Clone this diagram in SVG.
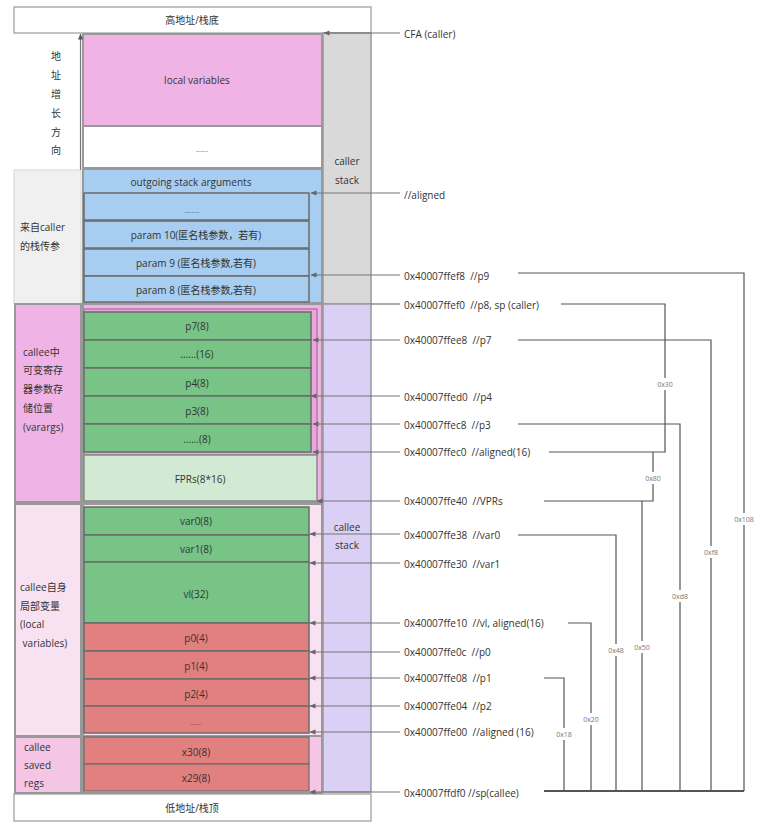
<svg xmlns="http://www.w3.org/2000/svg" width="760" height="829" viewBox="0 0 760 829">
<style>
text{font-family:"Open Sans","Noto Sans CJK SC",sans-serif;font-size:10px;fill:#333;white-space:pre}
.c{text-anchor:middle;dominant-baseline:central}
.l{dominant-baseline:central}
.sec{stroke:#999;stroke-width:2}
.row{stroke:#6b6b6b;stroke-width:1.5}
.ptr{stroke:#777;stroke-width:1.2;fill:none;marker-end:url(#ah)}
.br{stroke:#555;stroke-width:1.2;fill:none}
.bl{font-size:7px;fill:#777;text-anchor:middle;dominant-baseline:central}
.dots{font-size:8px;fill:#555}
</style>
<defs>
<marker id="ah" viewBox="0 0 6 6" refX="5.5" refY="3" markerWidth="6" markerHeight="6" markerUnits="userSpaceOnUse" orient="auto">
<path d="M0,0.5 L6,3 L0,5.5 z" fill="#666"/>
</marker>
<marker id="au" viewBox="0 0 6 6" refX="5.5" refY="3" markerWidth="6" markerHeight="6" markerUnits="userSpaceOnUse" orient="auto">
<path d="M0,0.5 L6,3 L0,5.5 z" fill="#555"/>
</marker>
</defs>
<rect width="760" height="829" fill="#fff"/>

<g id="top">
<rect x="14" y="7" width="357" height="26" fill="#fff" stroke="#999" stroke-width="1.2"/>
<text class="c" x="192" y="20">高地址/栈底</text>
</g>

<g id="growth">
<text class="c" x="56" y="56">地</text>
<text class="c" x="56" y="75">址</text>
<text class="c" x="56" y="94">增</text>
<text class="c" x="56" y="113">长</text>
<text class="c" x="56" y="132">方</text>
<text class="c" x="56" y="150">向</text>
</g>

<g id="caller-params-label">
<rect x="14" y="170" width="67" height="134" fill="#f0f0f0" stroke="#d6d6d6" stroke-width="1"/>
<text class="l" x="20" y="227">来自caller</text>
<text class="l" x="20" y="246">的栈传参</text>
</g>

<g id="varargs-label">
<rect x="15" y="304" width="66" height="198" fill="#efb3e6" class="sec"/>
<text class="l" x="23" y="352">callee中</text>
<text class="l" x="23" y="370">可变寄存</text>
<text class="l" x="23" y="389">器参数存</text>
<text class="l" x="23" y="408">储位置</text>
<text class="l" x="23" y="427">(varargs)</text>
</g>

<g id="callee-local-label">
<rect x="15" y="504" width="66" height="232" fill="#f8e2f2" class="sec"/>
<text class="l" x="20" y="587">callee自身</text>
<text class="l" x="20" y="606">局部变量</text>
<text class="l" x="20" y="624">(local</text>
<text class="l" x="20" y="643"> variables)</text>
</g>

<g id="callee-saved-label">
<rect x="15" y="737" width="66" height="56" fill="#f5c5e6" class="sec"/>
<text class="l" x="24" y="747">callee</text>
<text class="l" x="24" y="765">saved</text>
<text class="l" x="24" y="783">regs</text>
</g>

<g id="caller-stack">
<rect x="323" y="33" width="48" height="271" fill="#d9d9d9" stroke="#999" stroke-width="1.5"/>
<text class="c" x="347" y="161">caller</text>
<text class="c" x="347" y="180">stack</text>
</g>

<g id="callee-stack">
<rect x="323" y="304" width="48" height="488" fill="#dacff4" stroke="#999" stroke-width="1.5"/>
<text class="c" x="347" y="527">callee</text>
<text class="c" x="347" y="545">stack</text>
</g>

<g id="local-variables">
<rect x="83" y="34" width="239" height="92" fill="#efb3e6" class="sec"/>
<text class="c" x="197" y="80">local variables</text>
</g>

<g id="caller-dots">
<rect x="83" y="126" width="239" height="42" fill="#fff" class="sec"/>
<text class="c dots" x="202" y="148">......</text>
</g>

<g id="outgoing-args">
<rect x="83" y="169" width="239" height="134" fill="#a7cdf0" class="sec"/>
<text class="c" x="191" y="182">outgoing stack arguments</text>
</g>
<g id="blue-dots">
<rect x="84" y="193" width="225" height="27" fill="#a7cdf0" class="row"/>
<text class="c dots" x="192" y="209">.......</text>
</g>
<g id="param10">
<rect x="84" y="221" width="225" height="27" fill="#a7cdf0" class="row"/>
<text class="c" x="196" y="235">param 10(匿名栈参数，若有)</text>
</g>
<g id="param9">
<rect x="84" y="249" width="225" height="27" fill="#a7cdf0" class="row"/>
<text class="c" x="196" y="263">param 9 (匿名栈参数,若有)</text>
</g>
<g id="param8">
<rect x="84" y="276" width="225" height="26" fill="#a7cdf0" class="row"/>
<text class="c" x="196" y="290">param 8 (匿名栈参数,若有)</text>
</g>

<g id="varargs-area">
<rect x="83" y="304" width="239" height="198" fill="#efb3e6" class="sec"/>
<rect x="84" y="309" width="233" height="146" fill="#e6a7dc" stroke="#b77aad" stroke-width="1.5"/>
</g>
<g id="p7">
<rect x="84" y="312" width="227" height="28" fill="#77c486" class="row"/>
<text class="c" x="197" y="326">p7(8)</text>
</g>
<g id="dots16">
<rect x="84" y="340" width="227" height="28" fill="#77c486" class="row"/>
<text class="c" x="197" y="354">......(16)</text>
</g>
<g id="p4">
<rect x="84" y="368" width="227" height="28" fill="#77c486" class="row"/>
<text class="c" x="197" y="383">p4(8)</text>
</g>
<g id="p3">
<rect x="84" y="396" width="227" height="28" fill="#77c486" class="row"/>
<text class="c" x="197" y="411">p3(8)</text>
</g>
<g id="dots8">
<rect x="84" y="424" width="227" height="28" fill="#77c486" class="row"/>
<text class="c" x="197" y="439">......(8)</text>
</g>
<g id="fprs">
<rect x="84" y="455" width="233" height="46" fill="#d2ead4" stroke="#8a8a8a" stroke-width="1.5"/>
<text class="c" x="200" y="479">FPRs(8*16)</text>
</g>

<g id="callee-local-area">
<rect x="83" y="504" width="239" height="232" fill="#f8e2f2" class="sec"/>
</g>
<g id="var0">
<rect x="84" y="507" width="225" height="28" fill="#77c486" class="row"/>
<text class="c" x="196" y="521">var0(8)</text>
</g>
<g id="var1">
<rect x="84" y="535" width="225" height="27" fill="#77c486" class="row"/>
<text class="c" x="196" y="549">var1(8)</text>
</g>
<g id="vl">
<rect x="84" y="562" width="225" height="61" fill="#77c486" class="row"/>
<text class="c" x="196" y="594">vl(32)</text>
</g>
<g id="p0">
<rect x="84" y="623" width="225" height="28" fill="#e28080" class="row"/>
<text class="c" x="196" y="638">p0(4)</text>
</g>
<g id="p1">
<rect x="84" y="651" width="225" height="28" fill="#e28080" class="row"/>
<text class="c" x="196" y="666">p1(4)</text>
</g>
<g id="p2">
<rect x="84" y="679" width="225" height="27" fill="#e28080" class="row"/>
<text class="c" x="196" y="694">p2(4)</text>
</g>
<g id="red-dots">
<rect x="84" y="706" width="225" height="27" fill="#e28080" class="row"/>
<text class="c dots" x="196" y="721">......</text>
</g>

<g id="callee-saved-area">
<rect x="83" y="736" width="239" height="57" fill="#f5c5e6" class="sec"/>
</g>
<g id="x30">
<rect x="84" y="737" width="225" height="27" fill="#e28080" stroke="#6b6b6b" stroke-width="1.2"/>
<text class="c" x="196" y="752">x30(8)</text>
</g>
<g id="x29">
<rect x="84" y="764" width="225" height="27" fill="#e28080" stroke="#6b6b6b" stroke-width="1.2"/>
<text class="c" x="196" y="778">x29(8)</text>
</g>

<g id="bottom">
<rect x="14" y="794" width="357" height="27" fill="#fff" stroke="#999" stroke-width="1.2"/>
<text class="c" x="192" y="808">低地址/栈顶</text>
</g>

<g id="labels">
<text class="l" x="404" y="34">CFA (caller)</text>
<text class="l" x="404" y="195">//aligned</text>
<text class="l" x="404" y="276">0x40007ffef8  //p9</text>
<text class="l" x="404" y="305">0x40007ffef0  //p8, sp (caller)</text>
<text class="l" x="404" y="340">0x40007ffee8  //p7</text>
<text class="l" x="404" y="397">0x40007ffed0  //p4</text>
<text class="l" x="404" y="425">0x40007ffec8  //p3</text>
<text class="l" x="404" y="452">0x40007ffec0  //aligned(16)</text>
<text class="l" x="404" y="501">0x40007ffe40  //VPRs</text>
<text class="l" x="404" y="535">0x40007ffe38  //var0</text>
<text class="l" x="404" y="564">0x40007ffe30  //var1</text>
<text class="l" x="404" y="623">0x40007ffe10  //vl, aligned(16)</text>
<text class="l" x="404" y="652">0x40007ffe0c  //p0</text>
<text class="l" x="404" y="678">0x40007ffe08  //p1</text>
<text class="l" x="404" y="706">0x40007ffe04  //p2</text>
<text class="l" x="404" y="732">0x40007ffe00  //aligned (16)</text>
<text class="l" x="404" y="793">0x40007ffdf0 //sp(callee)</text>
</g>

<g id="connectors">
<line x1="80.5" y1="170" x2="80.5" y2="34" stroke="#777" stroke-width="1.2" marker-end="url(#au)"/>
<path class="ptr" d="M400,33 H324"/>
<path class="ptr" d="M400,193 H311"/>
<path class="ptr" d="M400,275 H311"/>
<path d="M400,304 H371" stroke="#777" stroke-width="1.2"/>
<path class="ptr" d="M400,340 H313"/>
<path class="ptr" d="M400,396 H311"/>
<path class="ptr" d="M400,424 H313"/>
<path class="ptr" d="M400,452 H313"/>
<path class="ptr" d="M400,501 H317"/>
<path class="ptr" d="M400,534 H310"/>
<path class="ptr" d="M400,563 H310"/>
<path class="ptr" d="M400,623 H310"/>
<path class="ptr" d="M400,652 H310"/>
<path class="ptr" d="M400,678 H310"/>
<path class="ptr" d="M400,706 H310"/>
<path class="ptr" d="M400,732 H310"/>
<path class="ptr" d="M400,792 H310"/>

<path class="br" d="M518,273 H744 V791"/>
<path class="br" d="M561,304 H665 V452 H549"/>
<path class="br" d="M518,340 H711 V791"/>
<path class="br" d="M518,424 H680 V791"/>
<path class="br" d="M653,452 V501 H544"/>
<path class="br" d="M642,501 V791"/>
<path class="br" d="M518,535 H616 V791"/>
<path class="br" d="M568,623 H591 V791"/>
<path class="br" d="M544,678 H564 V791"/>
<path d="M544,791 H744" stroke="#555" stroke-width="2" fill="none"/>

<rect x="654" y="378" width="22" height="12" fill="#fff"/>
<text class="bl" x="665" y="384">0x30</text>
<rect x="642" y="472" width="22" height="12" fill="#fff"/>
<text class="bl" x="653" y="478">0x80</text>
<rect x="731" y="513" width="26" height="12" fill="#fff"/>
<text class="bl" x="744" y="519">0x108</text>
<rect x="700" y="546" width="22" height="12" fill="#fff"/>
<text class="bl" x="711" y="552">0xf8</text>
<rect x="669" y="590" width="22" height="12" fill="#fff"/>
<text class="bl" x="680" y="596">0xd8</text>
<rect x="631" y="641" width="22" height="12" fill="#fff"/>
<text class="bl" x="642" y="647">0x50</text>
<rect x="605" y="644" width="22" height="12" fill="#fff"/>
<text class="bl" x="616" y="650">0x48</text>
<rect x="580" y="713" width="22" height="12" fill="#fff"/>
<text class="bl" x="591" y="719">0x20</text>
<rect x="553" y="728" width="22" height="12" fill="#fff"/>
<text class="bl" x="564" y="734">0x18</text>
</g>
</svg>
